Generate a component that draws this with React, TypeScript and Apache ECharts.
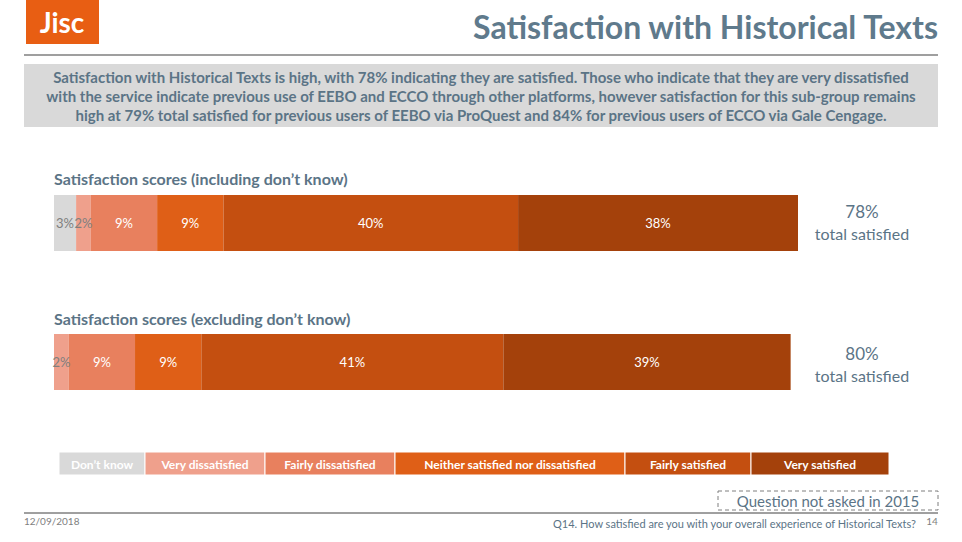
import { useEffect, useRef } from 'react';
import * as echarts from 'echarts';

const categories = ['Don\u2019t know', 'Very dissatisfied', 'Fairly dissatisfied', 'Neither satisfied nor dissatisfied', 'Fairly satisfied', 'Very satisfied'];
const colors = ['#d9d9d9', '#efa08c', '#e8805e', '#df5f17', '#c44f10', '#a4410b'];
const includingDK = [3, 2, 9, 9, 40, 38];
const excludingDK = [0, 2, 9, 9, 41, 39];
const totals = ['78%', '80%'];
const legendEdges = [59, 145, 265, 395, 625, 751, 889];

const font = 'Lato, "Open Sans", sans-serif';
const slate = '#5b7486';

export default function App() {
  const ref = useRef<HTMLDivElement>(null);

  useEffect(() => {
    if (!ref.current) return;
    const chart = echarts.init(ref.current, null, { renderer: 'svg' });

    const grids = [
      { left: 54, top: 195, height: 56, width: 744 },
      { left: 54, top: 334, height: 56, width: 744 },
    ];
    const series: any[] = [];
    [includingDK, excludingDK].forEach((vals, gi) => {
      vals.forEach((v, i) => {
        if (gi === 1 && i === 0) return;
        series.push({
          type: 'bar',
          name: categories[i],
          stack: 's' + gi,
          xAxisIndex: gi,
          yAxisIndex: gi,
          barWidth: 56,
          data: [v],
          itemStyle: { color: colors[i] },
          label: {
            show: true,
            position: 'inside',
            formatter: '{c}%',
            color: i < 2 ? '#7f7f7f' : '#fff',
            fontFamily: font,
            fontSize: 13,
          },
        });
      });
    });

    const graphic: any[] = [
      { type: 'rect', shape: { x: 26, y: 0, width: 73, height: 44 }, style: { fill: '#e85e13' } },
      { type: 'text', x: 62, y: 22, style: { text: 'Jisc', fill: '#fff', font: 'bold 28px ' + font, textAlign: 'center', textVerticalAlign: 'middle' } },
      { type: 'text', x: 938, y: 26, style: { text: 'Satisfaction with Historical Texts', fill: '#5f7a8c', font: 'bold 32px ' + font, textAlign: 'right', textVerticalAlign: 'middle' } },
      { type: 'line', shape: { x1: 24, y1: 55, x2: 938, y2: 55 }, style: { stroke: '#404040', lineWidth: 1.2 } },
      { type: 'rect', shape: { x: 24, y: 64, width: 914, height: 63 }, style: { fill: '#d9d9d9' } },
      {
        type: 'text', x: 481, y: 96,
        style: {
          text: 'Satisfaction with Historical Texts is high, with 78% indicating they are satisfied. Those who indicate that they are very dissatisfied\nwith the service indicate previous use of EEBO and ECCO through other platforms, however satisfaction for this sub-group remains\nhigh at 79% total satisfied for previous users of EEBO via ProQuest and 84% for previous users of ECCO via Gale Cengage.',
          fill: slate, font: 'bold 15px ' + font, textAlign: 'center', textVerticalAlign: 'middle', lineHeight: 19,
        },
      },
      { type: 'text', x: 54, y: 178, style: { text: 'Satisfaction scores (including don\u2019t know)', fill: slate, font: 'bold 16px ' + font, textVerticalAlign: 'middle' } },
      { type: 'text', x: 54, y: 318, style: { text: 'Satisfaction scores (excluding don\u2019t know)', fill: slate, font: 'bold 16px ' + font, textVerticalAlign: 'middle' } },
      { type: 'text', x: 862, y: 211, style: { text: totals[0], fill: slate, font: '17px ' + font, textAlign: 'center', textVerticalAlign: 'middle' } },
      { type: 'text', x: 862, y: 233, style: { text: 'total satisfied', fill: slate, font: '16px ' + font, textAlign: 'center', textVerticalAlign: 'middle' } },
      { type: 'text', x: 862, y: 353, style: { text: totals[1], fill: slate, font: '17px ' + font, textAlign: 'center', textVerticalAlign: 'middle' } },
      { type: 'text', x: 862, y: 375, style: { text: 'total satisfied', fill: slate, font: '16px ' + font, textAlign: 'center', textVerticalAlign: 'middle' } },
      { type: 'rect', shape: { x: 718, y: 491, width: 220, height: 19 }, style: { fill: 'none', stroke: '#7f7f7f', lineDash: [4, 3] } },
      { type: 'text', x: 828, y: 501, style: { text: 'Question not asked in 2015', fill: slate, font: '15px ' + font, textAlign: 'center', textVerticalAlign: 'middle' } },
      { type: 'line', shape: { x1: 24, y1: 513, x2: 938, y2: 513 }, style: { stroke: '#404040', lineWidth: 1 } },
      { type: 'text', x: 24, y: 521, style: { text: '12/09/2018', fill: '#7f7f7f', font: '10px ' + font, textVerticalAlign: 'middle' } },
      { type: 'text', x: 916, y: 523, style: { text: 'Q14. How satisfied are you with your overall experience of Historical Texts?', fill: slate, font: '11px ' + font, textAlign: 'right', textVerticalAlign: 'middle' } },
      { type: 'text', x: 932, y: 521, style: { text: '14', fill: '#7f7f7f', font: '10px ' + font, textAlign: 'center', textVerticalAlign: 'middle' } },
    ];
    categories.forEach((c, i) => {
      const x0 = legendEdges[i];
      const x1 = legendEdges[i + 1];
      graphic.push({ type: 'rect', shape: { x: x0, y: 452, width: x1 - x0, height: 23 }, style: { fill: colors[i], stroke: '#fff', lineWidth: 1 } });
      graphic.push({ type: 'text', x: (x0 + x1) / 2, y: 464, style: { text: c, fill: '#fff', font: 'bold 12px ' + font, textAlign: 'center', textVerticalAlign: 'middle' } });
    });

    chart.setOption({
      animation: false,
      grid: grids,
      xAxis: grids.map((_, i) => ({ type: 'value', gridIndex: i, min: 0, max: 101, show: false })),
      yAxis: grids.map((_, i) => ({ type: 'category', gridIndex: i, data: [''], show: false })),
      series,
      graphic,
    });
    return () => chart.dispose();
  }, []);

  return <div ref={ref} style={{ position: 'absolute', left: 0, top: 0, width: 962, height: 542, background: '#fff' }} />;
}
